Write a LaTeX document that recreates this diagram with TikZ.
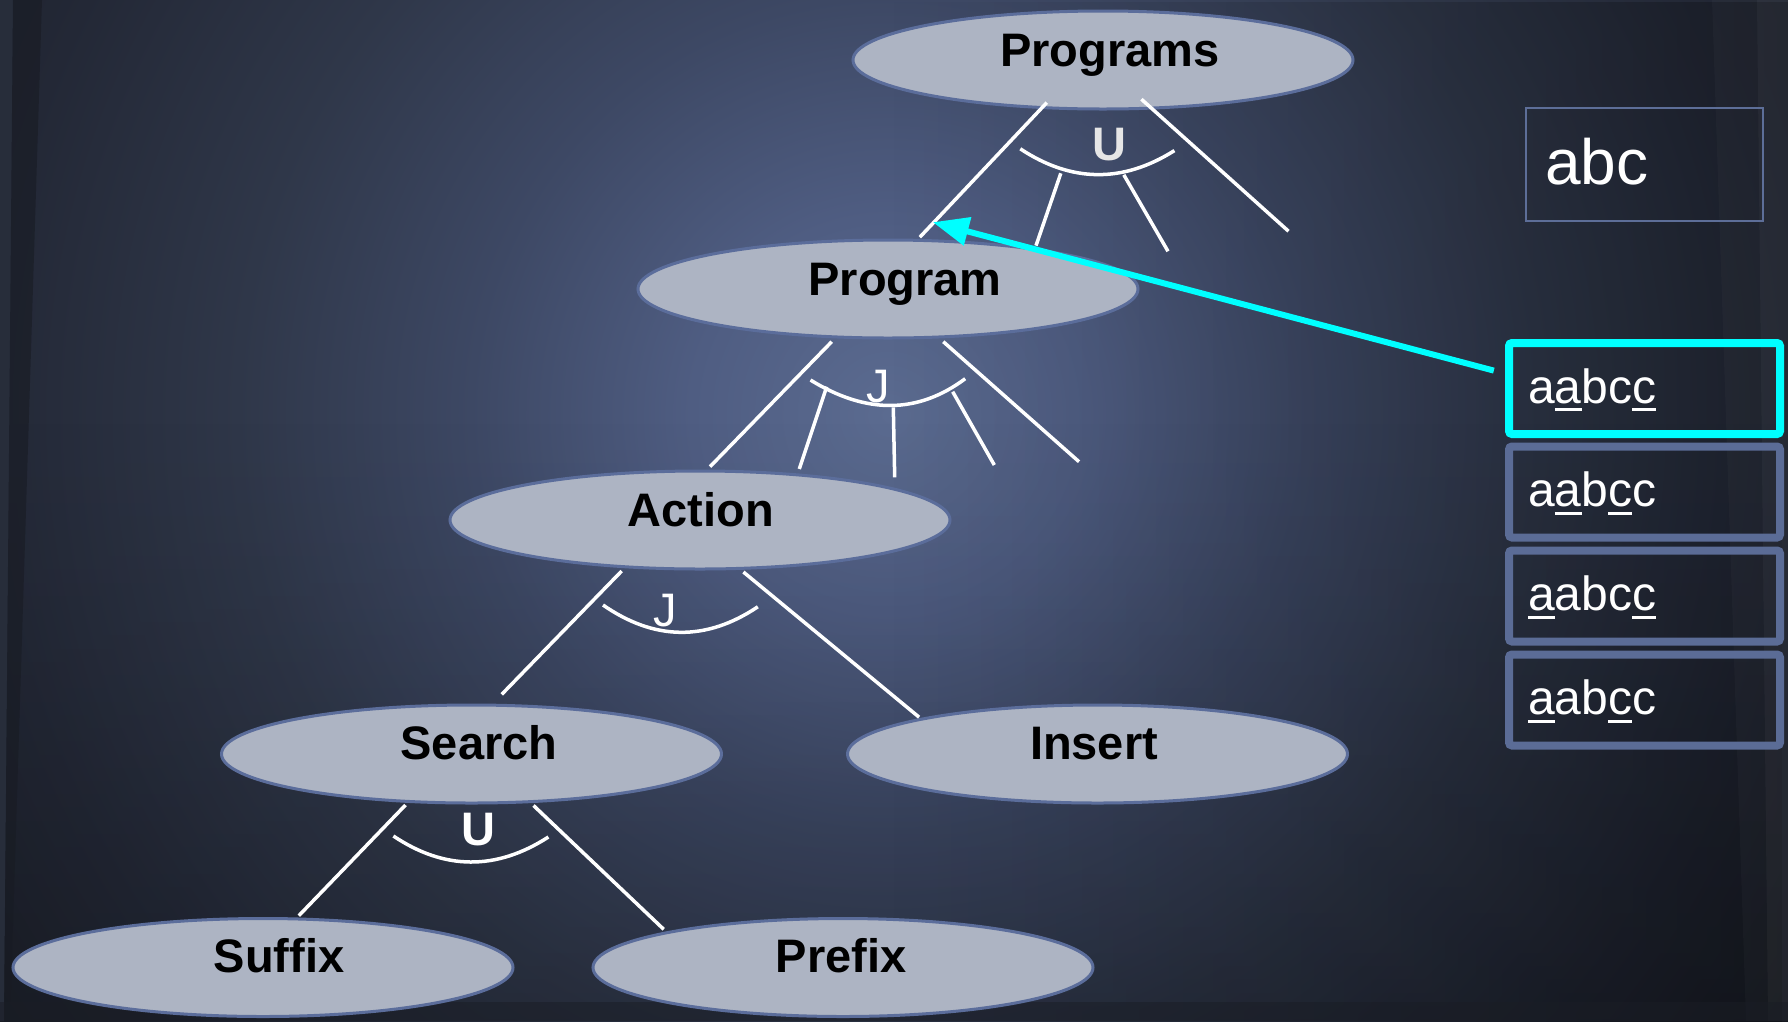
\documentclass[tikz,border=0pt]{standalone}
\usepackage{fontspec}
\setmainfont{Liberation Sans}
\usetikzlibrary{shapes.geometric,arrows.meta,fadings}

\definecolor{bgA}{HTML}{5B6B90}
\definecolor{bgB}{HTML}{4F5D82}
\definecolor{bgC}{HTML}{3D4864}
\definecolor{bgD}{HTML}{2F3749}
\definecolor{bgE}{HTML}{232836}
\definecolor{bgF}{HTML}{1C2029}
\definecolor{ellfill}{HTML}{ADB4C3}
\definecolor{ellborder}{HTML}{5B6D9B}
\definecolor{boxblue}{HTML}{5B6C96}
\definecolor{thinblue}{HTML}{5D6E98}
\definecolor{leftlight}{HTML}{272D3A}
\definecolor{leftdark}{HTML}{181B23}
\definecolor{stripcol}{HTML}{1A1D25}
\definecolor{ugray}{HTML}{E6E6E6}
\definecolor{arrowcyan}{HTML}{00FFFF}

\pgfdeclareradialshading{bgshade}{\pgfpoint{0bp}{0bp}}{color(0bp)=(bgA); color(4.5bp)=(bgB); color(9.5bp)=(bgC); color(14.8bp)=(bgD); color(20.5bp)=(bgE); color(25bp)=(bgF); color(50bp)=(bgF)}
\tikzfading[name=fadedown, top color=transparent!100, bottom color=transparent!0]
\tikzfading[name=faderight, left color=transparent!100, right color=transparent!0]

\newcommand\ulchar[1]{\setbox0=\hbox{#1}\rlap{\rule[-8pt]{\wd0}{3pt}}\box0}

\begin{document}
\begin{tikzpicture}[x=1pt,y=-1pt,
  ell/.style={ellipse, draw=ellborder, line width=3pt, fill=ellfill,
    minimum width=500pt, minimum height=98pt, inner sep=0pt},
  elltext/.style={anchor=base, inner sep=0pt, text=black,
    font=\fontsize{47}{56}\selectfont\bfseries},
  wline/.style={draw=white, line width=3.5pt},
  oplabel/.style={inner sep=0pt, text=white, font=\fontsize{47}{56}\selectfont},
  strbox/.style={draw=boxblue, line width=8pt, rounded corners=3pt,
    minimum width=271pt, minimum height=91pt, inner sep=0pt},
  seltext/.style={anchor=base west, inner sep=0pt, text=white,
    font=\fontsize{48}{56}\selectfont},
  cyanarrow/.style={draw=arrowcyan, line width=6pt,
    -{Triangle[length=36pt,width=28pt]}}
]
\path[use as bounding box] (0,0) rectangle (1788,1021);

% ---------- background ----------
\begin{scope}
  \clip (0,0) rectangle (1788,1021);
  \fill[bgF] (0,0) rectangle (1788,1021);
  \shade[shading=bgshade] (889,415) circle (1100pt);
  \fill[black, path fading=fadedown, fill opacity=0.25] (0,420) rectangle (1788,1260);
  \fill[black, path fading=faderight, fill opacity=0.3] (889,0) rectangle (2000,1021);
  \fill[leftlight] (0,0) -- (13,0) -- (4,1021) -- (0,1021) -- cycle;
  \fill[leftdark, opacity=0.6] (13,0) -- (42,0) -- (10,1021) -- (4,1021) -- cycle;
  \fill[white, opacity=0.025] (1712,0) -- (1788,0) -- (1788,1021) -- (1746,1021) -- cycle;
  \fill[white, opacity=0.035] (1757,0) -- (1788,0) -- (1788,1021) -- (1768,1021) -- cycle;
  \fill[stripcol, opacity=0.5] (0,1002) rectangle (1788,1021);
\end{scope}

% ---------- ellipses ----------
\node[ell] (Programs) at (1103,60) {};
\node[ell] (Program)  at (888,289) {};
\node[ell] (Action)   at (700,520) {};
\node[ell] (Search)   at (471.5,754) {};
\node[ell] (Insert)   at (1097.5,754) {};
\node[ell] (Suffix)   at (263,967.5) {};
\node[ell] (Prefix)   at (843,967.5) {};

\node[elltext] (ProgramsT) at (1110,66) {Programs};
\node[elltext] (ProgramT)  at (905,295) {Program};
\node[elltext] (ActionT)   at (701,526) {Action};
\node[elltext] (SearchT)   at (479,759) {Search};
\node[elltext] (InsertT)   at (1094,759) {Insert};
\node[elltext] (SuffixT)   at (279,972.5) {Suffix};
\node[elltext] (PrefixT)   at (841,972.5) {Prefix};

% ---------- line end points ----------
\coordinate (p1a) at (1046.8,102.6); \coordinate (p1b) at (919.8,237.2);
\coordinate (p2a) at (1141.4,99.2);  \coordinate (p2b) at (1288.5,231.2);
\coordinate (pi1a) at (1060.8,173.3); \coordinate (pi1b) at (1036,245.6);
\coordinate (pi2a) at (1123.8,174.8); \coordinate (pi2b) at (1168,251.3);
\coordinate (parcA) at (1020.3,148.8); \coordinate (parcB) at (1174.4,150.6);

\coordinate (q1a) at (831.7,341.7); \coordinate (q1b) at (710,466.7);
\coordinate (q2a) at (943.3,341.7); \coordinate (q2b) at (1079,461.7);
\coordinate (qi1a) at (826.7,386.7); \coordinate (qi1b) at (799.3,469);
\coordinate (qi2a) at (893.3,407.3); \coordinate (qi2b) at (894.7,477.3);
\coordinate (qi3a) at (952.7,391.7); \coordinate (qi3b) at (994.3,465);
\coordinate (qarcA) at (810.5,380); \coordinate (qarcB) at (965.2,378.7);

\coordinate (a1a) at (621.7,571); \coordinate (a1b) at (501.7,694.4);
\coordinate (a2a) at (743.4,572); \coordinate (a2b) at (919.1,717.2);
\coordinate (aarcA) at (603,605); \coordinate (aarcB) at (757.8,606.8);

\coordinate (s1a) at (405.5,805); \coordinate (s1b) at (298.8,915.7);
\coordinate (s2a) at (533.5,805.5); \coordinate (s2b) at (663.7,929.3);
\coordinate (sarcA) at (393.4,836); \coordinate (sarcB) at (548.4,837);

% ---------- white lines ----------
\draw[wline] (p1a) -- (p1b);
\draw[wline] (p2a) -- (p2b);
\draw[wline] (pi1a) -- (pi1b);
\draw[wline] (pi2a) -- (pi2b);
\draw[wline] (parcA) .. controls (1071.2,182.5) and (1122.5,183.3) .. (parcB);

\draw[wline] (q1a) -- (q1b);
\draw[wline] (q2a) -- (q2b);
\draw[wline] (qi1a) -- (qi1b);
\draw[wline] (qi2a) -- (qi2b);
\draw[wline] (qi3a) -- (qi3b);
\draw[wline] (qarcA) .. controls (866.3,414.4) and (917.8,414.0) .. (qarcB);

\draw[wline] (a1a) -- (a1b);
\draw[wline] (a2a) -- (a2b);
\draw[wline] (aarcA) .. controls (654.6,640.8) and (706.2,641.4) .. (aarcB);

\draw[wline] (s1a) -- (s1b);
\draw[wline] (s2a) -- (s2b);
\draw[wline] (sarcA) .. controls (444.5,870.3) and (496.2,870.7) .. (sarcB);

% ---------- operator labels ----------
\node[oplabel, text=ugray, font=\fontsize{47}{56}\selectfont\bfseries] (opU1) at (1109,145) {U};
\node[oplabel] (opJ1) at (878.3,386.7) {J};
\node[oplabel] (opJ2) at (665.5,610.7) {J};
\node[oplabel, font=\fontsize{47}{56}\selectfont\bfseries] (opU2) at (478.5,829.7) {U};

% ---------- right boxes ----------
\node[draw=thinblue, line width=2pt, minimum width=237pt, minimum height=113pt, inner sep=0pt] (abcbox) at (1644.3,164.8) {};
\node[anchor=base west, inner sep=0pt, text=white, font=\fontsize{64}{72}\selectfont] (abct) at (1545,184.5) {abc};

\node[strbox, draw=arrowcyan] (box1) at (1644.5,388.5) {};
\node[strbox] (box2) at (1644.5,492) {};
\node[strbox] (box3) at (1644.5,596) {};
\node[strbox] (box4) at (1644.5,700) {};

\node[seltext] (t1) at (1528,403) {a\ulchar{a}bc\ulchar{c}};
\node[seltext] (t2) at (1528,506.5) {a\ulchar{a}b\ulchar{c}c};
\node[seltext] (t3) at (1528,610.5) {\ulchar{a}abc\ulchar{c}};
\node[seltext] (t4) at (1528,714.5) {\ulchar{a}ab\ulchar{c}c};

% ---------- cyan arrow ----------
\coordinate (arrowstart) at (1493.8,370.6);
\coordinate (arrowtip) at (932.8,222.2);
\draw[cyanarrow] (arrowstart) -- (arrowtip);
\end{tikzpicture}
\end{document}
